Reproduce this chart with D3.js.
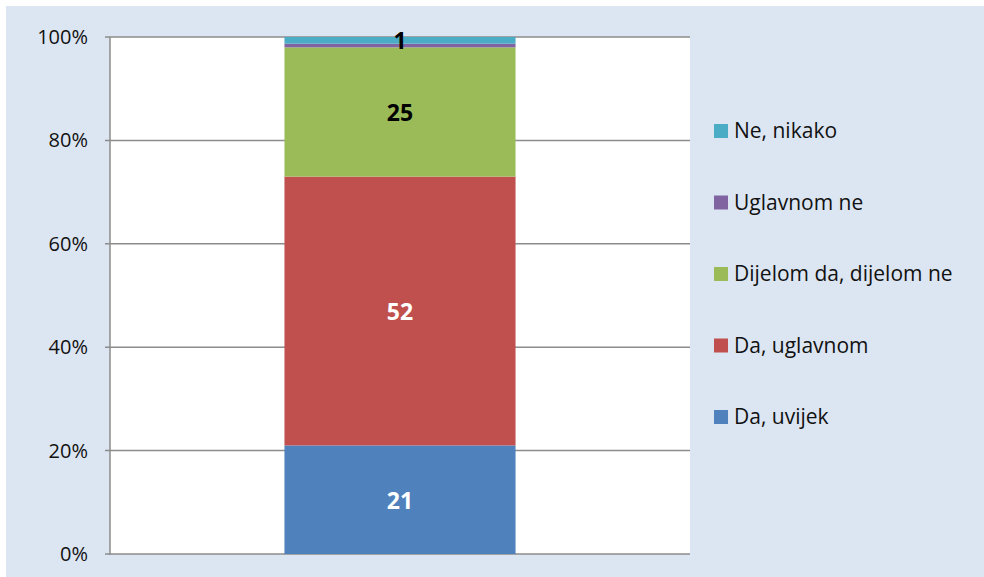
<!DOCTYPE html>
<html>
<head>
<meta charset="utf-8">
<script src="https://cdnjs.cloudflare.com/ajax/libs/d3/7.8.5/d3.min.js"></script>
<style>
  body { margin: 0; background: #fff; }
  text { font-family: "Open Sans", sans-serif; }
</style>
</head>
<body>
<div id="chart"></div>
<script>
  var width = 984, height = 577;

  // data, bottom to top of the stack
  var categories = ["Da, uvijek", "Da, uglavnom", "Dijelom da, dijelom ne", "Uglavnom ne", "Ne, nikako"];
  var values = [21, 52, 25, 0.7, 1.3];
  var colors = ["#4f81bd", "#c0504d", "#9bbb59", "#8064a2", "#4bacc6"];
  var labelColors = ["#fff", "#fff", "#000", "#000", "#000"];
  var tickValues = [0, 20, 40, 60, 80, 100];

  var plot = {left: 110, right: 690, top: 37, bottom: 554};

  var svg = d3.select("#chart").append("svg")
    .attr("width", width)
    .attr("height", height);

  svg.append("rect")
    .attr("x", 6).attr("y", 6)
    .attr("width", width - 6).attr("height", height - 6)
    .attr("fill", "#dce6f2");

  svg.append("rect")
    .attr("x", plot.left).attr("y", plot.top)
    .attr("width", plot.right - plot.left).attr("height", plot.bottom - plot.top)
    .attr("fill", "#fff");

  var y = d3.scaleLinear().domain([0, 100]).range([plot.bottom, plot.top]);
  var x = d3.scaleBand().domain(["all"]).range([plot.left, plot.right])
    .paddingInner(0).paddingOuter(0.755);

  // gridlines + left ticks
  svg.selectAll(".grid")
    .data(tickValues)
    .enter()
    .append("line")
    .attr("class", "grid")
    .attr("x1", plot.left - 5)
    .attr("x2", plot.right)
    .attr("y1", function(d){ return y(d); })
    .attr("y2", function(d){ return y(d); })
    .attr("stroke", "#8c8c8c")
    .attr("stroke-width", 1.5);

  svg.selectAll(".tickLabel")
    .data(tickValues)
    .enter()
    .append("text")
    .attr("class", "tickLabel")
    .attr("x", 88)
    .attr("y", function(d){ return y(d); })
    .attr("dy", "0.35em")
    .attr("text-anchor", "end")
    .attr("font-size", 20)
    .attr("fill", "#111")
    .text(function(d){ return d + "%"; });

  // stacked segments
  var stack = [];
  var acc = 0;
  values.forEach(function(v, i){
    stack.push({name: categories[i], y0: acc, y1: acc + v, v: v, i: i});
    acc += v;
  });

  svg.selectAll(".seg")
    .data(stack)
    .enter()
    .append("rect")
    .attr("class", "seg")
    .attr("x", x("all"))
    .attr("width", x.bandwidth())
    .attr("y", function(d){ return y(d.y1); })
    .attr("height", function(d){ return y(d.y0) - y(d.y1); })
    .attr("fill", function(d){ return colors[d.i]; });

  // axis line
  svg.append("line")
    .attr("x1", plot.left).attr("x2", plot.left)
    .attr("y1", plot.top).attr("y2", plot.bottom + 1)
    .attr("stroke", "#8c8c8c")
    .attr("stroke-width", 1.5);

  // data labels (the 0.7 segment has none)
  svg.selectAll(".val")
    .data(stack.filter(function(d){ return d.v >= 1; }))
    .enter()
    .append("text")
    .attr("class", "val")
    .attr("x", x("all") + x.bandwidth() / 2)
    .attr("y", function(d){ return (y(d.y0) + y(d.y1)) / 2 + 1; })
    .attr("dy", "0.35em")
    .attr("text-anchor", "middle")
    .attr("font-size", 23)
    .attr("font-weight", "bold")
    .attr("fill", function(d){ return labelColors[d.i]; })
    .text(function(d){ return Math.round(d.v); });

  // legend, top entry is last series
  var legendY = d3.scalePoint()
    .domain(categories.slice().reverse())
    .range([131, 417]);

  var leg = svg.selectAll(".leg")
    .data(categories)
    .enter()
    .append("g")
    .attr("class", "leg")
    .attr("transform", function(d){ return "translate(714," + legendY(d) + ")"; });

  leg.append("rect")
    .attr("x", 0).attr("y", -7)
    .attr("width", 14).attr("height", 14)
    .attr("fill", function(d, i){ return colors[i]; });

  leg.append("text")
    .attr("x", 20)
    .attr("dy", "0.35em")
    .attr("font-size", 21)
    .attr("fill", "#111")
    .text(function(d){ return d; });
</script>
</body>
</html>
